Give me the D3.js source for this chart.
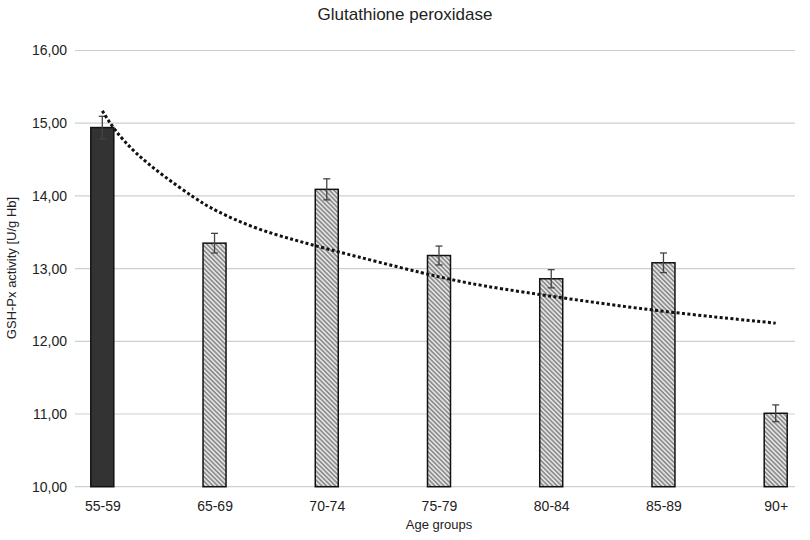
<!DOCTYPE html>
<html><head><meta charset="utf-8">
<script src="https://cdn.jsdelivr.net/npm/d3@7/dist/d3.min.js"></script>
<style>body{margin:0;background:#fff}text{font-family:"Liberation Sans",Arial,sans-serif}</style>
</head><body>
<svg id="c" width="810" height="540"></svg>
<script>
const categories = ["55-59","65-69","70-74","75-79","80-84","85-89","90+"];
const values = [14.94,13.35,14.09,13.18,12.86,13.08,11.01];
const errors = [0.155,0.135,0.145,0.13,0.125,0.135,0.115];
const yTicks = [10,11,12,13,14,15,16];
// trendline: position (category index, 1-based) and value
const trendPos = [1.0,1.11,1.29,1.53,1.83,2.0,2.36,2.72,3.0,3.92,4.34,5.17,5.97,7.0];
const trendVal = [15.17,14.90,14.59,14.29,13.96,13.80,13.55,13.39,13.27,12.91,12.77,12.58,12.41,12.25];

const svg = d3.select("#c");
const y = d3.scaleLinear().domain([10,16]).range([486.7,50.5]);
const x = d3.scalePoint().domain(categories).range([102.3,775.7]);
const xt = d3.scaleLinear().domain([1,7]).range([102.3,775.7]);
const barW = 23;

const defs = svg.append("defs");
const pat = defs.append("pattern").attr("id","hatch").attr("patternUnits","userSpaceOnUse")
  .attr("width",3.2).attr("height",3.2).attr("patternTransform","rotate(45)");
pat.append("rect").attr("width",3.2).attr("height",3.2).attr("fill","#e2e2e2");
pat.append("line").attr("x1",0).attr("y1",0.8).attr("x2",3.2).attr("y2",0.8).attr("stroke","#666").attr("stroke-width",1.1);

// gridlines
svg.append("g").selectAll("line").data(yTicks).join("line")
  .attr("x1",75).attr("x2",795).attr("y1",d=>y(d)).attr("y2",d=>y(d))
  .attr("stroke","#cfcfcf").attr("stroke-width",1.2);

// y axis labels
const yAxis = d3.axisLeft(y).tickValues(yTicks).tickSize(0).tickPadding(0)
  .tickFormat(d=>d3.format(".2f")(d).replace(".",","));
const ya = svg.append("g").attr("transform","translate(67,0)").call(yAxis);
ya.select(".domain").remove();
ya.selectAll("text").attr("font-size",14).attr("fill","#222").attr("font-family","'Liberation Sans',Arial,sans-serif");

// x axis labels
const xAxis = d3.axisBottom(x).tickSize(0).tickPadding(0);
const xa = svg.append("g").attr("transform","translate(0,501)").call(xAxis);
xa.select(".domain").remove();
xa.selectAll("text").attr("font-size",14).attr("fill","#222").attr("font-family","'Liberation Sans',Arial,sans-serif");

// bars
svg.append("g").selectAll("rect").data(values).join("rect")
  .attr("x",(d,i)=>x(categories[i])-barW/2).attr("width",barW)
  .attr("y",d=>y(d)).attr("height",d=>y(10)-y(d))
  .attr("fill",(d,i)=>i===0?"#333":"url(#hatch)")
  .attr("stroke","#111").attr("stroke-width",1.5);

// error bars
const eb = svg.append("g").attr("stroke","#444").attr("stroke-width",1.3);
values.forEach((v,i)=>{
  const cx = x(categories[i]);
  eb.append("line").attr("x1",cx).attr("x2",cx).attr("y1",y(v+errors[i])).attr("y2",y(v-errors[i]));
  eb.append("line").attr("x1",cx-3.5).attr("x2",cx+3.5).attr("y1",y(v+errors[i])).attr("y2",y(v+errors[i]));
  eb.append("line").attr("x1",cx-3.5).attr("x2",cx+3.5).attr("y1",y(v-errors[i])).attr("y2",y(v-errors[i]));
});

// trendline
const line = d3.line().x(d=>xt(d[0])).y(d=>y(d[1])).curve(d3.curveBasis);
svg.append("path").datum(trendPos.map((p,i)=>[p,trendVal[i]]))
  .attr("d",line).attr("fill","none").attr("stroke","#111")
  .attr("stroke-width",3).attr("stroke-dasharray","3,2.4");

// titles
svg.append("text").attr("x",405).attr("y",20).attr("text-anchor","middle")
  .attr("font-size",17).attr("fill","#222").text("Glutathione peroxidase");
svg.append("text").attr("x",439).attr("y",529).attr("text-anchor","middle")
  .attr("font-size",13).attr("fill","#222").text("Age groups");
svg.append("text").attr("transform","translate(16,268) rotate(-90)").attr("text-anchor","middle")
  .attr("font-size",13).attr("fill","#222").text("GSH-Px activity [U/g Hb]");
</script>
</body></html>
